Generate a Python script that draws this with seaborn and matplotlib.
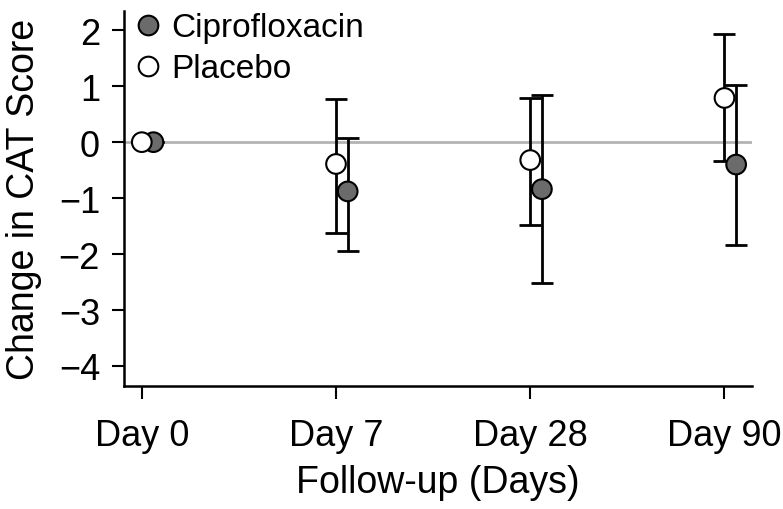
import matplotlib
matplotlib.use("Agg")
import matplotlib.pyplot as plt
import seaborn as sns
import numpy as np
import pandas as pd

days = ["Day 0", "Day 7", "Day 28", "Day 90"]
groups = ["Ciprofloxacin", "Placebo"]
cipro_mean = [0.0, -0.88, -0.84, -0.40]
cipro_low = [0.0, -1.94, -2.51, -1.84]
cipro_high = [0.0, 0.08, 0.84, 1.03]
placebo_mean = [0.0, -0.39, -0.32, 0.79]
placebo_low = [0.0, -1.62, -1.48, -0.34]
placebo_high = [0.0, 0.78, 0.79, 1.93]

sns.set_theme(style="ticks")
plt.rcParams['font.family'] = ['Liberation Sans', 'DejaVu Sans']
plt.rcParams['text.color'] = 'black'
plt.rcParams['axes.labelcolor'] = 'black'
plt.rcParams['xtick.color'] = 'black'
plt.rcParams['ytick.color'] = 'black'

fig = plt.figure(figsize=(7.83, 5.10), dpi=100)
ax = fig.add_axes([0.158, 0.241, 0.802, 0.735])

offsets = {"Ciprofloxacin": 0.06, "Placebo": 0.0}
colors = {"Ciprofloxacin": "#6b6b6b", "Placebo": "#ffffff"}
series = {
    "Ciprofloxacin": (cipro_mean, cipro_low, cipro_high),
    "Placebo": (placebo_mean, placebo_low, placebo_high),
}

rows = []
for g in groups:
    m, lo, hi = series[g]
    for i, d in enumerate(days):
        rows.append({"day": d, "pos": i + offsets[g], "group": g,
                     "mean": m[i], "low": lo[i], "high": hi[i]})
df = pd.DataFrame(rows)

ax.axhline(0, color="#b3b3b3", lw=2, zorder=1)

for g in ["Placebo", "Ciprofloxacin"]:
    sub = df[df.group == g]
    yerr = np.vstack([sub["mean"] - sub["low"], sub["high"] - sub["mean"]])
    ax.errorbar(sub["pos"], sub["mean"], yerr=yerr, fmt="none",
                ecolor="black", elinewidth=2, capsize=8, capthick=2, zorder=2)

sns.scatterplot(data=df, x="pos", y="mean", hue="group", hue_order=groups,
                palette=colors, s=200, edgecolor="black", linewidth=1.5,
                zorder=3, ax=ax, legend=True)

ax.set_xlim(-0.093, 3.14)
ax.set_ylim(-4.36, 2.34)
ax.set_xticks(range(len(days)))
ax.set_xticklabels(days)
ax.set_yticks([-4, -3, -2, -1, 0, 1, 2])
ax.set_yticklabels(["\u22124", "\u22123", "\u22122", "\u22121", "0", "1", "2"])
ax.set_xlabel("Follow-up (Days)", fontsize=27, labelpad=8, color="black")
ax.set_ylabel("Change in CAT Score", fontsize=27, labelpad=12, color="black")
ax.tick_params(axis="both", labelsize=26, width=1.5, length=9, color="black",
               labelcolor="black")
ax.tick_params(axis="x", pad=14)
ax.tick_params(axis="y", pad=8)
for s in ["top", "right"]:
    ax.spines[s].set_visible(False)
for s in ["left", "bottom"]:
    ax.spines[s].set_linewidth(1.8)
    ax.spines[s].set_color("black")

leg = ax.legend(loc="upper left", bbox_to_anchor=(-0.02, 1.05), frameon=False,
                fontsize=24, handletextpad=0.2, labelspacing=0.3,
                borderaxespad=0.2, handlelength=1.0)
for t in leg.get_texts():
    t.set_color("black")

fig.savefig("out.png", dpi=100)
